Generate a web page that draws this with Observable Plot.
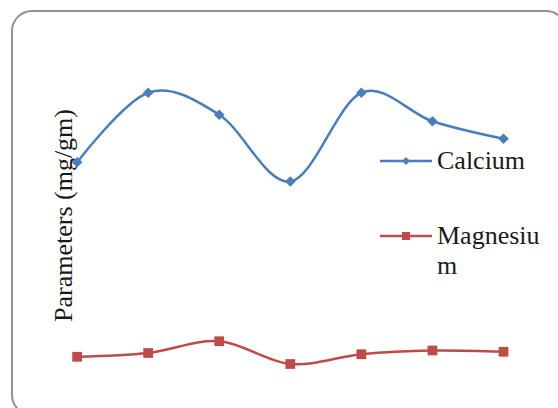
<!DOCTYPE html>
<html>
<head>
<meta charset="utf-8">
<script src="https://cdn.jsdelivr.net/npm/d3@7"></script>
<script src="https://cdn.jsdelivr.net/npm/@observablehq/plot@0.6"></script>
<style>
  html, body { margin: 0; padding: 0; background: #fff; }
  #wrap { position: relative; width: 558px; height: 408px; overflow: hidden; background: #fff; }
  #border { position: absolute; left: 11px; top: 10px; width: 556px; height: 406px;
            border: 2px solid #919191; border-radius: 21px; box-sizing: border-box; pointer-events: none; }
  #chart { position: absolute; left: 0; top: 0; }
  #legend { position: absolute; left: 378px; top: 0; font-family: "Liberation Serif", "Times New Roman", serif;
            font-size: 26px; color: #1a1a1a; }
  .item { position: absolute; left: 0; display: flex; align-items: flex-start; }
  .item svg { flex: none; }
  .item span { display: block; width: 110px; margin-left: 3px; word-break: break-all; line-height: 30px; }
</style>
</head>
<body>
<div id="wrap">
  <div id="chart"></div>
  <div id="legend"></div>
  <div id="border"></div>
</div>
<script>
// Sample positions (1..7) and values (arbitrary units, no axis ticks shown)
const samples = [1, 2, 3, 4, 5, 6, 7];
const calcium = [87.3, 115.1, 106.3, 79.6, 115.1, 103.7, 96.7];
const magnesium = [9.5, 11.0, 15.7, 6.6, 10.5, 12.0, 11.5];
const seriesNames = ["Calcium", "Magnesium"];
const seriesColors = ["#4a7ebb", "#be4b48"];
const yLabel = "Parameters (mg/gm)";

const rows = [];
samples.forEach((s, i) => {
  rows.push({sample: s, value: calcium[i], series: seriesNames[0]});
  rows.push({sample: s, value: magnesium[i], series: seriesNames[1]});
});
const ca = rows.filter(d => d.series === seriesNames[0]);
const mg = rows.filter(d => d.series === seriesNames[1]);

const chart = Plot.plot({
  width: 558,
  height: 408,
  marginLeft: 76.6,
  marginRight: 55,
  marginTop: 30,
  marginBottom: 28,
  style: {background: "transparent", fontFamily: "Liberation Serif, serif"},
  x: {domain: [1, 7], axis: null},
  y: {domain: [0, 140], axis: null},
  marks: [
    Plot.line(ca, {x: "sample", y: "value", stroke: seriesColors[0], strokeWidth: 2.5, curve: "cardinal"}),
    Plot.line(mg, {x: "sample", y: "value", stroke: seriesColors[1], strokeWidth: 2.5, curve: "cardinal"}),
    Plot.text([yLabel], {frameAnchor: "left", textAnchor: "middle", lineAnchor: "middle", rotate: -90,
      dx: -13, dy: 10, fontSize: 26, fontFamily: "Liberation Serif", fill: "#1a1a1a"}),
    Plot.dot(ca, {x: "sample", y: "value", symbol: "diamond2", r: 4.8, fill: seriesColors[0], stroke: "none"}),
    Plot.dot(mg, {x: "sample", y: "value", symbol: "square", r: 5.5, fill: seriesColors[1], stroke: "none"})
  ]
});
document.getElementById("chart").appendChild(chart);

// Legend overlay (line + marker swatches)
const legend = document.getElementById("legend");
const legendTops = [146, 221];
seriesNames.forEach((name, i) => {
  const item = document.createElement("div");
  item.className = "item";
  item.style.top = legendTops[i] + "px";
  const marker = i === 0
    ? `<path d="M28,11 L32,15 L28,19 L24,15 Z" fill="${seriesColors[i]}"/>`
    : `<rect x="24" y="11" width="8" height="8" fill="${seriesColors[i]}"/>`;
  item.innerHTML = `<svg width="56" height="30"><line x1="2" x2="54" y1="15" y2="15" stroke="${seriesColors[i]}" stroke-width="2.5"/>${marker}</svg><span>${name}</span>`;
  legend.appendChild(item);
});
</script>
</body>
</html>
